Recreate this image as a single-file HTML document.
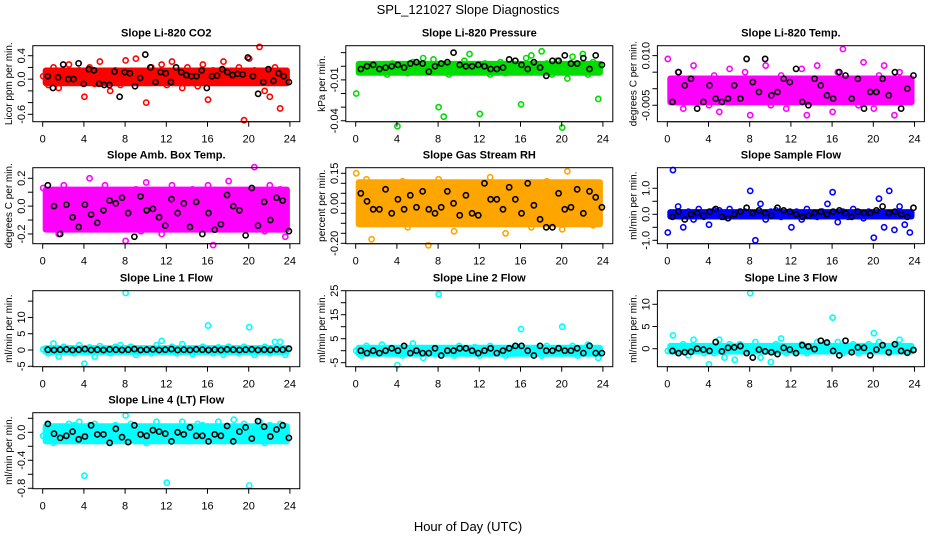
<!DOCTYPE html>
<html><head><meta charset="utf-8"><style>
body{margin:0;background:#fff;}
svg{display:block;font-family:"Liberation Sans",sans-serif;}
</style></head><body>
<svg id="c" width="936" height="540">
<text x="468" y="14" text-anchor="middle" font-size="13">SPL_121027  Slope Diagnostics</text>
<text x="468" y="531" text-anchor="middle" font-size="13">Hour of Day (UTC)</text>
</svg>
<script>
const hourTicks=[0,4,8,12,16,20,24];
const co2Vals=[0.05,-0.1,0.2,-0.15,0.1,0.25,-0.05,0.15,-0.3,0.2,-0.08,0.3,0.1,-0.2,0.15,-0.1,0.32,-0.05,0.35,0.1,-0.4,0.2,0,0.25,-0.1,0.3,0.05,-0.15,0.2,0.1,-0.12,0.25,-0.35,0.15,0.05,0.3,-0.05,0.1,0.2,-0.7,0.35,0.15,0.55,-0.2,-0.3,0.2,-0.5,0.05];
const co2Black=[0.05,-0.15,0.03,0.25,0,0,0.27,-0.08,0.17,0.15,-0.08,-0.1,-0.1,0.13,-0.3,0.12,0.1,-0.12,0.02,0.42,0.2,-0.05,0.12,0.1,-0.05,0.2,0.12,0.07,0.05,0.05,0.15,-0.15,0.05,0.06,0.17,0.12,0.07,0.09,0.08,0.37,0.05,-0.25,-0.05,0.17,-0.03,0.1,0.05,-0.05];
const co2Band=[-0.12,0.2];
const co2Ticks=[-0.6,-0.4,-0.2,0,0.2,0.4];
const co2Labels=["-0.6","","","0.0","","0.4"];
const presVals=[-0.02,-0.002,0.001,-0.004,0,-0.003,-0.006,0.002,-0.044,-0.001,-0.005,0.003,-0.002,0.006,-0.004,0.005,-0.03,-0.037,-0.006,0.001,-0.003,0.004,0.009,-0.002,-0.035,0.002,-0.006,-0.001,0.003,-0.005,0.001,-0.004,-0.028,0.006,0.008,-0.003,0.011,0.002,-0.006,0.004,-0.045,-0.009,0.007,-0.004,0.009,-0.006,0.003,-0.024];
const presBlack=[-0.002,0,0.001,-0.002,-0.001,0,0.001,-0.001,0.002,0.003,0.002,-0.004,0,0.002,0.003,0.01,0.001,0,0,0.001,0,-0.002,-0.002,-0.001,0.005,0.004,0.001,-0.002,0.003,-0.001,-0.007,0.004,0.004,0.008,0.002,0.002,0.006,-0.002,0.008,0.001];
const presBand=[-0.007,0.004];
const presTicks=[-0.04,-0.03,-0.02,-0.01,0,0.01];
const presLabels=["-0.04","","","-0.01","",""];
const tempVals=[0.009,-0.002,0.005,-0.006,0.003,0.007,-0.003,0.001,-0.005,0.004,-0.007,0.002,0.006,-0.004,0,0.005,-0.008,0.003,-0.002,0.007,-0.005,0.001,0.004,-0.006,0.002,-0.003,0.006,-0.008,0.003,0.007,-0.004,0.001,-0.007,0.005,0.012,-0.003,0.002,-0.005,0.008,0.003,-0.006,0.004,0.007,-0.002,-0.008,0.005,0.001,-0.003];
const tempBlack=[-0.004,0.005,0.001,0.003,-0.006,-0.004,0.001,-0.003,-0.004,-0.003,0.001,-0.003,0.009,0.002,-0.001,0.009,-0.002,-0.001,0.003,0.002,0.006,-0.004,-0.005,0.003,0.001,-0.002,-0.003,0.005,0.004,-0.003,0.003,-0.006,-0.001,-0.001,0.003,-0.002,0.005,-0.006,0,0.004];
const tempBand=[-0.005,0.004];
const tempTicks=[-0.005,0,0.005,0.010];
const tempLabels=["-0.005","","","0.010"];
const ambVals=[0.13,-0.1,0.05,-0.2,0.15,0.02,-0.15,0.1,-0.05,0.2,-0.12,0.08,0.15,-0.08,0.03,0.1,-0.25,0.05,0.12,-0.18,0.17,-0.02,0.08,-0.2,0.1,0.15,-0.1,0.05,-0.15,0.12,0.04,-0.1,0.15,-0.28,0.08,-0.05,0.18,-0.15,0.1,0.02,-0.1,0.28,0.05,-0.18,0.15,-0.05,0.12,-0.22];
const ambBlack=[0.15,0,-0.2,0.01,-0.08,-0.15,0.01,-0.06,-0.12,-0.03,0.04,0.02,0.06,-0.05,-0.22,0.07,-0.03,-0.02,-0.08,-0.14,0.05,-0.05,0.02,-0.15,0.03,-0.2,-0.05,-0.17,-0.13,0.08,0,-0.03,-0.21,0.13,-0.14,0.03,-0.1,0.06,0.04,-0.18];
const ambBand=[-0.19,0.14];
const ambTicks=[-0.2,-0.1,0,0.1,0.2];
const ambLabels=["-0.2","","0.0","","0.2"];
const rhVals=[0.15,-0.05,0.12,-0.18,0.03,0.1,-0.1,0.06,-0.02,0.11,-0.12,0.05,-0.06,0.09,-0.21,0.02,0.12,-0.08,0.04,-0.14,0.08,-0.03,0.1,-0.1,0.06,-0.05,0.13,-0.02,0.09,-0.15,0.04,0.1,-0.08,0.02,-0.12,0.07,-0.04,0.11,-0.1,0.05,-0.13,0.16,-0.06,0.08,-0.03,0.1,-0.11,0.06];
const rhBlack=[0.05,0.01,-0.03,-0.03,0.07,-0.05,0.02,-0.03,0.04,-0.02,0.06,-0.03,-0.05,-0.02,0.06,0,-0.06,0.04,-0.05,-0.06,0.1,0.02,0.02,-0.03,0.08,0.02,-0.05,0.1,-0.01,-0.08,-0.12,-0.12,0.05,-0.03,-0.02,0.07,-0.05,0.06,0.03,-0.02];
const rhBand=[-0.12,0.12];
const rhTicks=[-0.2,-0.15,-0.1,-0.05,0,0.05,0.1,0.15];
const rhLabels=["-0.20","","","","0.00","","","0.15"];
const flowVals=[-0.7,1.7,0.3,-0.5,0.1,-0.2,0.2,-0.1,-0.4,0.15,0.15,-0.1,0.2,-0.05,0.1,0.1,0.9,-1.0,0.4,-0.2,0.1,0.15,-0.1,0.05,-0.5,0.1,-0.2,0.2,0.05,-0.1,0.1,0.4,0.85,-0.3,0.1,-0.1,0.2,0.05,-0.15,0.1,-0.9,0.6,-0.5,0.9,-0.6,0.3,-0.4,-0.7];
const flowBlack=[-0.1,0.1,-0.2,0,0.05,-0.05,0.1,0.2,-0.1,-0.15,0,0.1,0.25,0.05,0.15,0.05,-0.05,0.25,0.15,0.1,0,-0.1,-0.05,0.05,0.1,0,0.1,0.15,0.05,-0.1,0.1,0.05,0.05,0.15,0.3,0.05,0.1,0,-0.1,0.25];
const flowBand=[-0.2,0.2];
const flowTicks=[-1,-0.5,0,0.5,1];
const flowLabels=["-1.0","","0.0","","1.0"];
const l1Vals=[0.2,-1,2,-2,1,0.5,-1,1.5,-4.2,0.8,-2,1.2,0,-1,1,1.5,17.5,1,-1.5,0,0,-1,1.5,2.8,0.5,1,-1,1.8,0,-1.2,0.5,1,7.5,-1,0.8,-1.5,1,0,-1,1,7,-1.5,0.5,1,-1,2.5,2.5,-1.5];
const l1Black=[0.1,0,0.1,0.2,0,0.1,0.3,0,0.1,0,0.2,0.1,0,0.1,0.3,0,0.1,0.2,0,0.1,0.3,0,0.1,0,0.2,0.1,0,0.1,0,0.2,0.1,0,0.1,0.2,0,0.1,0,0.2,0.1,0.4];
const l1Band=[-1.5,1.5];
const l1Ticks=[-5,0,5,10,15];
const l1Labels=["-5","0","5","10",""];
const l2Vals=[0,-2,2,1,-1,2.5,-1,1,-6,-2,1,3,-1,-3,1,0,23.5,-1,1,-2,2,0,-1,1.5,-2,0,2,-1,1,-2,0,2,9,-1,1,0,-2,2,0,1,10,1,2,-2,0,2.5,-1,-3];
const l2Black=[0,-1,0,-1,0,1,0,2,-1,0,-1,-1,1,-2,0,0,1,1,0,-1,0,1,-1,0,1,2,2,0,-2,2,0,0,1,0,0,1,-1,2,-1,-1];
const l2Band=[-2.5,2.5];
const l2Ticks=[-5,0,5,10,15,20,25];
const l2Labels=["-5","","5","","15","","25"];
const l3Vals=[-0.5,3,-1,1,-1.5,2,0,-1,-3.5,-1,2,-2,1,-2.5,1,0,12.5,1.5,-2,0,-3,1,2.3,-1,0.5,-0.5,1,-1,0,1.5,0,1,7,1.5,-1,0.5,1,-1,0,1,3.5,1.5,0,-1,1,2,-0.5,0];
const l3Black=[-0.5,-1,-0.8,-0.7,0,-0.2,-0.5,1.5,-0.6,0.2,0.3,0.6,-1,-2,-0.2,-0.6,-0.8,-1.2,0.2,-0.2,-1,0.8,0.5,-0.1,1.8,1.4,-0.5,-1.5,1.8,-0.8,0.3,0.2,-1.5,-0.2,0.8,-0.8,1,-0.5,-0.9,-0.3];
const l3Band=[-1.3,1.3];
const l3Ticks=[0,5,10];
const l3Labels=["0","5","10"];
const l4Vals=[-0.05,0.1,-0.15,0.05,-0.1,0.12,0.1,0.15,-0.62,0.1,0.12,-0.1,0.05,-0.15,0.1,-0.05,0.24,0.12,-0.1,0.05,-0.15,0.08,0.15,-0.05,-0.72,-0.12,0.05,0.15,-0.1,0.05,0.12,0.1,0.08,-0.05,0.15,-0.1,0.05,0.18,-0.08,0.12,-0.76,0.05,0.15,-0.15,0.1,-0.05,0.12,-0.08];
const l4Black=[0.12,-0.02,-0.08,-0.05,0.01,-0.1,-0.06,0.1,-0.03,-0.03,-0.15,0.05,-0.07,-0.14,0.1,-0.03,-0.05,0.03,0.01,-0.02,-0.13,0,-0.03,0.07,-0.05,-0.05,-0.13,-0.03,-0.05,0.09,-0.13,0.01,0.07,-0.09,0.16,0.08,-0.06,0.04,0.1,-0.08];
const l4Band=[-0.17,0.13];
const l4Ticks=[-0.8,-0.6,-0.4,-0.2,0,0.2];
const l4Labels=["-0.8","","-0.4","","0.0",""];

const NS="http://www.w3.org/2000/svg";
const svg=document.getElementById('c');
function mk(tag,attrs,parent){const e=document.createElementNS(NS,tag);for(const k in attrs)e.setAttribute(k,attrs[k]);(parent||svg).appendChild(e);return e;}
const colX=[32.8,345.8,657.4], rowY=[45.7,167.7,290.7,412.7], BW=267, BH=76;
const panels=[
 {t:"Slope Li-820 CO2",yt:"Licor ppm per min.",c:"#ff0000",r:0,k:0,lo:-0.726,hi:0.571,v:co2Vals,b:co2Black,band:co2Band,tk:co2Ticks,tl:co2Labels,n:"co2"},
 {t:"Slope Li-820 Pressure",yt:"kPa per min.",c:"#00dd00",r:0,k:1,lo:-0.0407,hi:0.0151,v:presVals,b:presBlack,band:presBand,tk:presTicks,tl:presLabels,n:"pressure"},
 {t:"Slope Li-820 Temp.",yt:"degrees C per min.",c:"#ff00ff",r:0,k:2,lo:-0.00997,hi:0.013,v:tempVals,b:tempBlack,band:tempBand,tk:tempTicks,tl:tempLabels,n:"li820-temp"},
 {t:"Slope Amb. Box Temp.",yt:"degrees C per min.",c:"#ff00ff",r:1,k:0,lo:-0.27,hi:0.276,v:ambVals,b:ambBlack,band:ambBand,tk:ambTicks,tl:ambLabels,n:"amb-box-temp"},
 {t:"Slope Gas Stream RH",yt:"percent per min.",c:"#ffa500",r:1,k:1,lo:-0.202,hi:0.178,v:rhVals,b:rhBlack,band:rhBand,tk:rhTicks,tl:rhLabels,n:"gas-rh"},
 {t:"Slope Sample Flow",yt:"ml/min per min.",c:"#0000ff",r:1,k:2,lo:-1.13,hi:1.79,v:flowVals,b:flowBlack,band:flowBand,tk:flowTicks,tl:flowLabels,n:"sample-flow"},
 {t:"Slope Line 1 Flow",yt:"ml/min per min.",c:"#00ffff",r:2,k:0,lo:-5.12,hi:18.2,v:l1Vals,b:l1Black,band:l1Band,tk:l1Ticks,tl:l1Labels,n:"line1-flow"},
 {t:"Slope Line 2 Flow",yt:"ml/min per min.",c:"#00ffff",r:2,k:1,lo:-6.67,hi:25,v:l2Vals,b:l2Black,band:l2Band,tk:l2Ticks,tl:l2Labels,n:"line2-flow"},
 {t:"Slope Line 3 Flow",yt:"ml/min per min.",c:"#00ffff",r:2,k:2,lo:-4.05,hi:13.06,v:l3Vals,b:l3Black,band:l3Band,tk:l3Ticks,tl:l3Labels,n:"line3-flow"},
 {t:"Slope Line 4 (LT) Flow",yt:"ml/min per min.",c:"#00ffff",r:3,k:0,lo:-0.806,hi:0.28,v:l4Vals,b:l4Black,band:l4Band,tk:l4Ticks,tl:l4Labels,n:"line4-flow"}
];
panels.forEach(p=>{
 const x0=colX[p.k], y0=rowY[p.r];
 const g=mk('g',{});
 
 
 const X=h=>x0+BW*(h+0.96)/25.92;
 const Y=v=>y0+BH*(p.hi-v)/(p.hi-p.lo);
 const t=mk('text',{x:x0+BW/2,y:y0-9,'text-anchor':'middle','font-size':11,'font-weight':'bold'},g);t.textContent=p.t;
 
 
 const yt=mk('text',{transform:`translate(${x0-21},${y0+BH/2}) rotate(-90)`,'text-anchor':'middle','font-size':10},g);yt.textContent=p.yt;
 
 
 const bd=mk('rect',{x:X(0),y:Y(p.band[1]),width:X(24)-X(0),height:Y(p.band[0])-Y(p.band[1]),fill:p.c,rx:3},g);
 
 
 p.v.forEach((v,i)=>{
  const h=i*0.5+0.05;
  const c=mk('circle',{cx:X(h),cy:Y(v),r:2.6,fill:'none',stroke:p.c,'stroke-width':1.6},g);
  
  
 });
 p.b.forEach((v,i)=>{
  const h=0.5+23.4*i/(p.b.length-1);
  const c=mk('circle',{cx:X(h),cy:Y(v),r:2.6,fill:'none',stroke:'#000','stroke-width':1.6},g);
  
  
 });
 const bx=mk('rect',{x:x0,y:y0,width:BW,height:BH,fill:'none',stroke:'#000','stroke-width':1},g);
 
 
 mk('line',{x1:X(0),x2:X(24),y1:y0+BH,y2:y0+BH,stroke:'#000'},g);
 hourTicks.forEach(h=>{
  mk('line',{x1:X(h),x2:X(h),y1:y0+BH,y2:y0+BH+5,stroke:'#000'},g);
  const l=mk('text',{x:X(h),y:y0+BH+21,'text-anchor':'middle','font-size':11},g);l.textContent=h;
  
  
 });
 p.tk.forEach((v,i)=>{
  mk('line',{x1:x0-5,x2:x0,y1:Y(v),y2:Y(v),stroke:'#000'},g);
  if(p.tl[i]){
   const l=mk('text',{transform:`translate(${x0-8},${Y(v)}) rotate(-90)`,'text-anchor':'middle','font-size':11},g);l.textContent=p.tl[i];
   
   
  }
 });
});
</script>
</body></html>
